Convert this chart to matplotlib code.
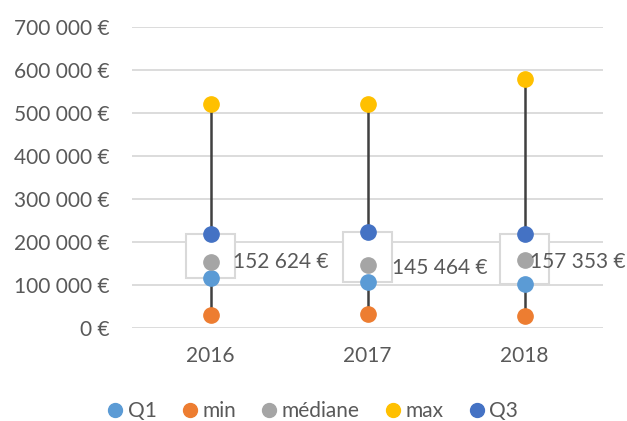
import matplotlib.pyplot as plt
from matplotlib.ticker import FuncFormatter
from matplotlib.lines import Line2D

# data
years = ['2016', '2017', '2018']
q1 = [117000, 107000, 102000]
vmin = [30000, 32500, 28600]
median = [152624, 145464, 157353]
vmax = [521000, 521000, 580000]
q3 = [218000, 223000, 218000]

# label offsets (points) for the median labels
label_dx = [16, 18, 4]
label_dy = [0, -1.5, -1.5]

colors = {'Q1': '#5B9BD5', 'min': '#ED7D31', 'médiane': '#A5A5A5',
          'max': '#FFC000', 'Q3': '#4472C4'}

plt.rcParams['font.family'] = ['Lato', 'DejaVu Sans']
text_color = '#595959'


def euro(v, pos=None):
    return f'{int(round(v)):,} €'.replace(',', ' ')


fig = plt.figure(figsize=(6.27, 4.21), dpi=100)
ax = fig.add_axes([132 / 627, 1 - 328 / 421, 471 / 627, 301 / 421])

x = list(range(len(years)))
ax.set_xlim(-0.5, len(years) - 0.5)
ax.set_ylim(0, 700000)
ax.set_yticks(range(0, 700001, 100000))
ax.yaxis.set_major_formatter(FuncFormatter(euro))
ax.set_xticks(x)
ax.set_xticklabels(years)
ax.grid(axis='y', color='#D9D9D9', linewidth=1.3, zorder=0)
ax.set_axisbelow(True)
for s in ax.spines.values():
    s.set_visible(False)
ax.tick_params(length=0, labelsize=15, colors=text_color)
ax.tick_params(axis='y', pad=16)
ax.tick_params(axis='x', pad=13)

# whiskers
ax.vlines(x, vmin, vmax, color='#404040', linewidth=1.8, zorder=2)

# boxes from Q1 to Q3
box_w = 0.31
ax.bar(x, [b - a for a, b in zip(q1, q3)], bottom=q1, width=box_w,
       color='white', edgecolor='#D9D9D9', linewidth=1.5, zorder=3)

# points
series = [('Q1', q1), ('min', vmin), ('médiane', median), ('max', vmax), ('Q3', q3)]
for name, vals in series:
    ax.plot(x, vals, 'o', color=colors[name], markersize=11, zorder=4,
            linestyle='none')

# median labels
for xi, m, dx, dy in zip(x, median, label_dx, label_dy):
    ax.annotate(euro(m), (xi, m), xytext=(dx, dy), textcoords='offset points',
                ha='left', va='center', fontsize=15, color=text_color, zorder=5)

handles = [Line2D([], [], marker='o', linestyle='none', color=colors[n],
                  markersize=10) for n, _ in series]
fig.legend(handles, [n for n, _ in series], loc='center',
           bbox_to_anchor=(0.5, 1 - 411 / 421), ncol=5, frameon=False,
           fontsize=15, labelcolor=text_color, handlelength=0.6,
           handletextpad=0.3, columnspacing=1.3)

fig.savefig('out.png', dpi=100)
